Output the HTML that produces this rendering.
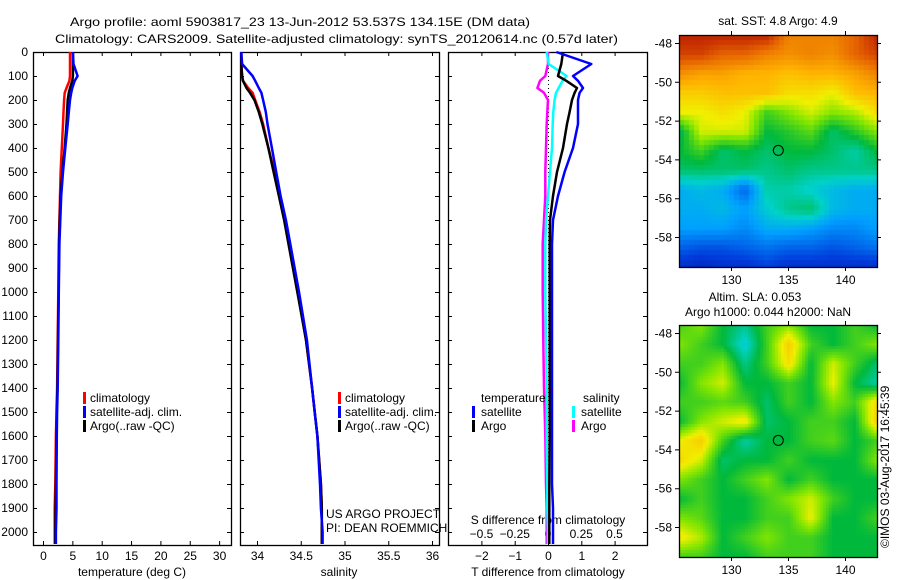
<!DOCTYPE html>
<html><head><meta charset="utf-8"><style>
body{margin:0;background:#fff;}
svg text{font-family:"Liberation Sans",sans-serif;font-size:12px;fill:#000;}
#wrap{position:relative;width:900px;height:580px;}
canvas{position:absolute;}
</style></head><body><div id="wrap">
<canvas id="sst" width="198" height="232" style="left:679px;top:35px"></canvas>
<canvas id="sla" width="198" height="232" style="left:679px;top:325px"></canvas>
<svg id="s" width="900" height="580" style="position:absolute;left:0;top:0" xmlns="http://www.w3.org/2000/svg"></svg>
</div>
<script>
// ---- data ----
const depths=[0,50,100,120,150,170,200,250,300,400,500,600,700,800,1000,1200,1400,1500,1600,1800,1900,2000,2050];
const tempClim=[4.6,4.6,4.6,4.5,4.0,3.7,3.6,3.5,3.4,3.2,3.0,2.9,2.8,2.7,2.6,2.5,2.4,2.3,2.2,2.1,2.0,2.0,2.0];
const tempSat=[5.1,5.2,5.9,5.4,5.0,4.8,4.6,4.4,4.2,3.8,3.4,3.1,2.95,2.8,2.7,2.6,2.5,2.4,2.35,2.3,2.3,2.2,2.2];
const tempArgo=[5.1,5.1,5.1,5.0,4.6,4.4,4.2,4.1,4.0,3.7,3.3,3.0,2.85,2.75,2.65,2.55,2.45,2.35,2.3,2.2,2.15,2.1,2.1];
const salClim=[33.82,33.82,33.83,33.84,33.9,33.95,33.98,34.03,34.07,34.13,34.2,34.26,34.32,34.37,34.47,34.56,34.63,34.66,34.69,34.73,34.74,34.74,34.74];
const salSat=[33.82,33.83,33.95,33.98,34.02,34.05,34.07,34.1,34.12,34.17,34.22,34.27,34.33,34.38,34.48,34.57,34.63,34.66,34.69,34.72,34.73,34.75,34.75];
const salArgo=[33.82,33.82,33.83,33.84,33.88,33.92,33.97,34.02,34.06,34.13,34.19,34.25,34.31,34.36,34.46,34.56,34.63,34.66,34.69,34.73,34.74,34.74,34.74];
const dTsat=[0.25,1.3,0.75,0.9,1.05,0.95,0.9,0.9,0.9,0.75,0.5,0.3,0.15,0.12,0.12,0.12,0.12,0.12,0.12,0.12,0.15,0.15,0.15];
const dTargo=[0.45,0.4,0.3,0.55,0.87,0.8,0.72,0.65,0.57,0.45,0.27,0.15,0.06,0.05,0.05,0.05,0.05,0.05,0.05,0.04,0.04,0.04,0.04];
const dSsat=[-0.01,0.005,0.14,0.11,0.08,0.06,0.05,0.04,0.035,0.03,0.015,0.0,-0.015,-0.02,-0.02,-0.015,-0.01,-0.01,-0.01,-0.005,-0.005,0,0];
const dSargo=[0,0,-0.02,-0.06,-0.08,-0.03,0,-0.005,-0.01,-0.015,-0.02,-0.02,-0.03,-0.04,-0.04,-0.035,-0.03,-0.025,-0.02,-0.015,-0.01,-0.01,-0.01];
const depthTicks=[0,100,200,300,400,500,600,700,800,900,1000,1100,1200,1300,1400,1500,1600,1700,1800,1900,2000];
const tempTicks=[0,5,10,15,20,25,30];
const salTicks=[34,34.5,35,35.5,36];
const salTickLbl=["34","34.5","35","35.5","36"];
const dTTicks=[-2,-1,0,1,2];
const dSTicks=[-0.5,-0.25,0,0.25,0.5];
const dSTickLbl=["\u22120.5","\u22120.25","0","0.25","0.5"];
const latTicks=[-48,-50,-52,-54,-56,-58];
const lonTicks=[130,135,140];
const floatLon=134.15, floatLat=-53.537;
// ---- scales ----
const Y=d=>52+d*0.24;
const XT=t=>43+t*5.87;
const XS=s=>257+(s-34)*87.5;
const XdT=t=>548+t*33.3;
const XdS=s=>548+s*133;
const MX=l=>731+(l-130)*11.4;
const MY1=la=>43+(-48-la)*19.4;
const MY2=la=>333+(-48-la)*19.4;
const svg=document.getElementById('s');
const NS='http://www.w3.org/2000/svg';
function el(tag,attrs,txt){const e=document.createElementNS(NS,tag);for(const k in attrs)e.setAttribute(k,attrs[k]);if(txt!==undefined)e.textContent=txt;svg.appendChild(e);return e;}
function txt(x,y,s,anchor,name){const t=el('text',{x:x,y:y,'text-anchor':anchor||'start'},s);

return t;}
function box(x0,y0,x1,y1,name){const r=el('rect',{x:x0+.5,y:y0+.5,width:x1-x0,height:y1-y0,fill:'none',stroke:'#000','stroke-width':1.3});

}
function line(xs,color,name,w){let p='';for(let i=0;i<depths.length;i++){p+=(i?'L':'M')+xs(i).toFixed(1)+','+Y(depths[i]).toFixed(1);}
const e=el('path',{d:p,fill:'none',stroke:color,'stroke-width':w||2.5,'stroke-linejoin':'round'});

}
// titles
const t1=txt(70,26,'Argo profile: aoml 5903817_23 13-Jun-2012 53.537S 134.15E (DM data)','start','title-line-1');
t1.setAttribute('font-size','14');t1.setAttribute('textLength','460');t1.setAttribute('lengthAdjust','spacingAndGlyphs');
const t2=txt(55,43,'Climatology: CARS2009. Satellite-adjusted climatology: synTS_20120614.nc (0.57d later)','start','title-line-2');
t2.setAttribute('font-size','14');t2.setAttribute('textLength','563');t2.setAttribute('lengthAdjust','spacingAndGlyphs');
const panels=[[33,231],[240,439],[448,647]];
panels.forEach((p,i)=>{box(p[0],52,p[1],545,'panel-'+(i+1)+'-frame');
depthTicks.forEach(d=>{const y=Y(d)+.5;el('path',{d:`M${p[0]},${y}h4M${p[1]},${y}h-4`,stroke:'#000','stroke-width':1});});});
depthTicks.forEach(d=>txt(28,Y(d)+4,String(d),'end','depth-tick-'+d));
// panel 1
tempTicks.forEach(t=>{const x=XT(t)+.5;el('path',{d:`M${x},545v-4M${x},52v4`,stroke:'#000'});txt(x,560,String(t),'middle','temp-tick-'+t);});
txt(132,576,'temperature (deg C)','middle','x-axis-title-temperature');
line(i=>XT(tempClim[i]),'#f00','temp-climatology');
line(i=>XT(tempArgo[i]),'#000','temp-argo');
line(i=>XT(tempSat[i]),'#00f','temp-satellite');
// panel 2
salTicks.forEach((s,k)=>{const x=XS(s)+.5;el('path',{d:`M${x},545v-4M${x},52v4`,stroke:'#000'});txt(x,560,salTickLbl[k],'middle','sal-tick-'+k);});
txt(339,576,'salinity','middle','x-axis-title-salinity');
line(i=>XS(salClim[i]),'#f00','sal-climatology');
line(i=>XS(salArgo[i]),'#000','sal-argo');
line(i=>XS(salSat[i]),'#00f','sal-satellite');
// legends
[[83,90],[338,345]].forEach((L,k)=>{[['#f00','climatology'],['#00f','satellite-adj. clim.'],['#000','Argo(..raw -QC)']].forEach((it,j)=>{
el('rect',{x:L[0],y:392+j*14,width:3,height:12,fill:it[0]});txt(L[1],402+j*14,it[1],'start','legend-'+(k+1)+'-'+j);});});
txt(326,518,'US ARGO PROJECT','start','pi-project');
txt(326,532,'PI: DEAN ROEMMICH','start','pi-name');
// panel 3
el('line',{x1:548.5,y1:52,x2:548.5,y2:545,stroke:'#000','stroke-dasharray':'1,3'});
dTTicks.forEach(t=>{const x=XdT(t)+.5;el('path',{d:`M${x},545v-4M${x},52v4`,stroke:'#000'});txt(x,560,String(t).replace('-','\u2212'),'middle','dT-tick-'+t);});
dSTicks.forEach((s,k)=>txt(XdS(s),538,dSTickLbl[k],'middle','dS-tick-'+k));
txt(548,524,'S difference from climatology','middle','dS-axis-title');
txt(548,576,'T difference from climatology','middle','dT-axis-title');
line(i=>XdS(dSargo[i]),'#f0f','dS-argo');
line(i=>XdS(dSsat[i]),'#0ff','dS-satellite');
line(i=>XdT(dTargo[i]),'#000','dT-argo');
line(i=>XdT(dTsat[i]),'#00f','dT-satellite');
txt(481,402,'temperature','start','legend-temperature-head');
txt(583,402,'salinity','start','legend-salinity-head');
[[472,'#00f','satellite',0],[472,'#000','Argo',1],[572,'#0ff','satellite',0],[572,'#f0f','Argo',1]].forEach((it,j)=>{
el('rect',{x:it[0],y:406+it[3]*14,width:3,height:12,fill:it[1]});txt(it[0]+9,416+it[3]*14,it[2],'start','legend-diff-'+j);});
// maps frames & ticks
[[35,267,MY1,'sst'],[325,557,MY2,'sla']].forEach(m=>{box(679,m[0],877,m[1],m[3]+'-frame');
latTicks.forEach(la=>{const y=m[2](la)+.5;el('path',{d:`M679,${y}h-4M877,${y}h4`,stroke:'#000'});txt(672,y+4,String(la),'end',m[3]+'-lat-'+la);});
lonTicks.forEach(lo=>{const x=MX(lo)+.5;el('path',{d:`M${x},${m[0]}v-4M${x},${m[1]}v4`,stroke:'#000'});txt(x,m[1]+17,String(lo),'middle',m[3]+'-lon-'+lo);});
const c=el('circle',{cx:MX(floatLon),cy:m[2](floatLat),r:5,fill:'none',stroke:'#000'});

});
txt(778,25,'sat. SST: 4.8 Argo: 4.9','middle','sst-title');
txt(755,301,'Altim. SLA: 0.053','middle','sla-title-1');
txt(768,316,'Argo h1000: 0.044 h2000: NaN','middle','sla-title-2');
const im=txt(0,0,'\u00a9IMOS 03-Aug-2017 16:45:39','start','timestamp');
im.setAttribute('transform','translate(889,548) rotate(-90)');
// ---- map images ----
const sstGrid=[
[.95,.95,.95,.95,.95,.8,.8,.8,.85,.95],[.9,.9,.85,.85,.8,.78,.8,.78,.85,.9],[.78,.75,.75,.72,.72,.7,.72,.72,.75,.8],
[.68,.68,.7,.7,.7,.65,.65,.62,.7,.72],[.62,.62,.65,.62,.5,.55,.6,.55,.58,.65],[.42,.6,.6,.6,.45,.48,.52,.42,.48,.55],
[.45,.5,.42,.45,.42,.45,.45,.42,.38,.45],[.42,.42,.42,.42,.4,.42,.4,.4,.4,.4],[.3,.32,.3,.2,.38,.38,.35,.32,.3,.3],
[.3,.3,.32,.28,.35,.4,.42,.32,.3,.3],[.28,.28,.28,.25,.3,.3,.28,.25,.25,.28],[.2,.18,.18,.2,.22,.2,.2,.18,.2,.22],[.12,.1,.12,.12,.15,.12,.12,.12,.12,.12]];
const slaGrid=[
[.5,.55,.45,.4,.5,.55,.45,.45,.5,.45],[.55,.5,.45,.34,.5,.68,.5,.45,.5,.55],[.5,.5,.55,.4,.5,.65,.45,.6,.5,.42],
[.45,.55,.6,.45,.45,.5,.45,.62,.45,.38],[.5,.5,.52,.5,.42,.5,.45,.55,.5,.66],[.45,.55,.6,.64,.42,.45,.5,.5,.45,.68],
[.62,.68,.5,.38,.45,.45,.5,.52,.45,.5],[.66,.6,.42,.45,.45,.5,.45,.45,.45,.55],[.55,.5,.45,.5,.55,.45,.5,.45,.45,.45],
[.45,.5,.45,.45,.5,.55,.6,.5,.45,.45],[.55,.52,.45,.45,.5,.5,.62,.45,.45,.5],[.64,.58,.45,.5,.55,.5,.5,.45,.45,.45],[.5,.5,.45,.45,.5,.5,.5,.45,.45,.45]];
const cmapStops=[[0,[0,0,140]],[.15,[0,60,220]],[.28,[0,160,255]],[.36,[0,210,200]],[.45,[0,185,60]],[.55,[130,230,0]],[.62,[240,240,0]],[.72,[255,180,0]],[.85,[230,100,0]],[1,[170,0,0]]];
function cmap(v){v=Math.max(0,Math.min(1,v));for(let i=1;i<cmapStops.length;i++){if(v<=cmapStops[i][0]){const a=cmapStops[i-1],b=cmapStops[i],f=(v-a[0])/(b[0]-a[0]);return a[1].map((c,k)=>Math.round(c+(b[1][k]-c)*f));}}return cmapStops[cmapStops.length-1][1];}
function drawMap(id,grid,cell){const c=document.getElementById(id).getContext('2d');const W=198,H=232,R=grid.length,C=grid[0].length;
for(let y=0;y<H;y+=cell)for(let x=0;x<W;x+=cell){const gx=(x+cell/2)/W*(C-1),gy=(y+cell/2)/H*(R-1);const i=Math.min(C-2,Math.floor(gx)),j=Math.min(R-2,Math.floor(gy));const fx=gx-i,fy=gy-j;
const v=grid[j][i]*(1-fx)*(1-fy)+grid[j][i+1]*fx*(1-fy)+grid[j+1][i]*(1-fx)*fy+grid[j+1][i+1]*fx*fy;const col=cmap(v);c.fillStyle=`rgb(${col})`;c.fillRect(x,y,cell,cell);}}
drawMap('sst',sstGrid,5);drawMap('sla',slaGrid,3);
</script></body></html>
